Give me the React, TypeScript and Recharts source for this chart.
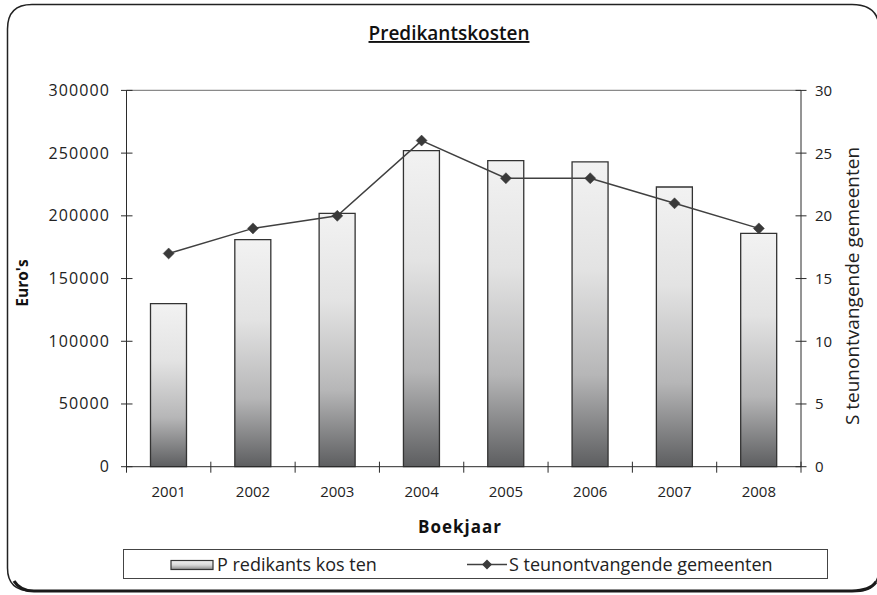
import React from 'react';
import {
  ComposedChart, Bar, Line, XAxis, YAxis, Legend, ReferenceLine, Customized,
} from 'recharts';

const years = ['2001', '2002', '2003', '2004', '2005', '2006', '2007', '2008'];
const kosten = [130000, 181000, 202000, 252000, 244000, 243000, 223000, 186000];
const gemeenten = [17, 19, 20, 26, 23, 23, 21, 19];
const leftTicks = [0, 50000, 100000, 150000, 200000, 250000, 300000];
const rightTicks = [0, 5, 10, 15, 20, 25, 30];

const TITLE = 'Predikantskosten';
const BAR_NAME = 'P redikants kos ten';
const LINE_NAME = 'S teunontvangende gemeenten';

const data = years.map((y, i) => ({ year: y, kosten: kosten[i], gemeenten: gemeenten[i] }));

const W = 877;
const H = 595;
const PLOT_LEFT = 126.5;
const PLOT_RIGHT = 801;
const PLOT_TOP = 90.4;
const PLOT_BOTTOM = 466.7;
const BAND = (PLOT_RIGHT - PLOT_LEFT) / years.length;
const FONT = '"Open Sans", "DejaVu Sans", sans-serif';
const INK = '#2b2b2b';
const LINE_COLOR = '#404040';

const LeftTick = (props: any) => {
  const { x, y, payload } = props;
  return (
    <g>
      <line x1={x - 5.5} x2={x + 6} y1={y} y2={y} stroke={INK} strokeWidth={1} />
      <text x={x - 16.5} y={y + 5.5} textAnchor="end" fontFamily={FONT} fontSize={16} letterSpacing={1.1} fill="#222">
        {payload.value}
      </text>
    </g>
  );
};

const RightTick = (props: any) => {
  const { x, y, payload } = props;
  return (
    <g>
      <line x1={x - 5.5} x2={x + 5.5} y1={y} y2={y} stroke={INK} strokeWidth={1} />
      <text x={x + 14} y={y + 5.5} textAnchor="start" fontFamily={FONT} fontSize={15} fill="#222">
        {payload.value}
      </text>
    </g>
  );
};

const XTick = (props: any) => {
  const { x, y, payload, index } = props;
  return (
    <g>
      <line x1={x - BAND / 2} x2={x - BAND / 2} y1={y - 5} y2={y + 6} stroke={INK} strokeWidth={1} />
      {index === years.length - 1 && (
        <line x1={x + BAND / 2} x2={x + BAND / 2} y1={y - 5} y2={y + 6} stroke={INK} strokeWidth={1} />
      )}
      <text x={x} y={y + 30.5} textAnchor="middle" fontFamily={FONT} fontSize={15} fill="#222">
        {payload.value}
      </text>
    </g>
  );
};

const Diamond = (props: any) => {
  const { cx, cy } = props;
  if (cx == null || cy == null) return null;
  const r = 5.5;
  return (
    <path d={`M${cx},${cy - r}L${cx + r},${cy}L${cx},${cy + r}L${cx - r},${cy}Z`} fill="#3a3a3a" stroke="#3a3a3a" strokeWidth={0.5} />
  );
};

const LegendContent = () => (
  <svg width={705} height={30} style={{ display: 'block', overflow: 'visible' }}>
    <defs>
      <linearGradient id="legGrad" x1="0" y1="0" x2="0" y2="1">
        <stop offset="0" stopColor="#f2f2f2" />
        <stop offset="0.5" stopColor="#d8d8d8" />
        <stop offset="1" stopColor="#8a8a8a" />
      </linearGradient>
    </defs>
    <rect x={0.5} y={0.5} width={704} height={29} fill="#fff" stroke="#444" strokeWidth={1} />
    <rect x={48} y={11.5} width={42} height={9} fill="url(#legGrad)" stroke="#333" strokeWidth={1.2} />
    <text x={94} y={21.5} fontFamily={FONT} fontSize={18} fill="#222">{BAR_NAME}</text>
    <line x1={344} x2={384} y1={15.5} y2={15.5} stroke={LINE_COLOR} strokeWidth={1.5} />
    <path d="M364,10.5L369,15.5L364,20.5L359,15.5Z" fill="#3a3a3a" />
    <text x={386} y={21.5} fontFamily={FONT} fontSize={18} fill="#222">{LINE_NAME}</text>
  </svg>
);

const Decorations = () => (
  <g>
    <path
      d="M7.5,568 L7.5,29 Q7.5,4.5 32,4.5 L852,4.5 Q879,4.5 879,29 L879,568 Q879,591 856,591 L32,591 Q7.5,591 7.5,568 Z"
      fill="none"
      stroke="#222"
      strokeWidth={1.5}
    />
    <path d="M14,581 Q20,591 34,591 L852,591 Q870,591 876,582" fill="none" stroke="#1a1a1a" strokeWidth={3.2} />
    <text x={449} y={40} textAnchor="middle" fontFamily={FONT} fontWeight={600} fontSize={19} fill="#111" style={{ textDecoration: 'underline' }}>
      {TITLE}
    </text>
    <text x={460} y={533} textAnchor="middle" fontFamily={FONT} fontWeight={700} fontSize={17} letterSpacing={1} fill="#111">
      Boekjaar
    </text>
    <text x={0} y={0} transform={`translate(28, 283) rotate(-90)`} textAnchor="middle" fontFamily={FONT} fontWeight={700} fontSize={15.5} fill="#111">
      Euro's
    </text>
    <text x={0} y={0} transform={`translate(859, 286) rotate(-90)`} textAnchor="middle" fontFamily={FONT} fontSize={19} fill="#222">
      {LINE_NAME}
    </text>
  </g>
);

export default function App() {
  return (
    <div style={{ position: 'absolute', left: 0, top: 0, width: W, height: H, background: '#fff' }}>
      <ComposedChart
        width={W}
        height={H}
        data={data}
        margin={{ top: PLOT_TOP, right: 0, left: 0, bottom: H - PLOT_BOTTOM - 30 }}
        barCategoryGap={0}
      >
        <defs>
          <linearGradient id="barGrad" x1="0" y1="0" x2="0" y2="1">
            <stop offset="0" stopColor="#f2f2f2" />
            <stop offset="0.35" stopColor="#e3e3e3" />
            <stop offset="0.7" stopColor="#b6b6b7" />
            <stop offset="1" stopColor="#5d5e60" />
          </linearGradient>
        </defs>
        <XAxis
          dataKey="year"
          height={30}
          tickSize={0}
          tickMargin={0}
          tickLine={false}
          axisLine={{ stroke: INK, strokeWidth: 1 }}
          tick={<XTick />}
          interval={0}
        />
        <YAxis
          yAxisId="left"
          orientation="left"
          width={PLOT_LEFT}
          domain={[0, 300000]}
          ticks={leftTicks}
          tickSize={0}
          tickMargin={0}
          tickLine={false}
          axisLine={{ stroke: INK, strokeWidth: 1 }}
          tick={<LeftTick />}
          interval={0}
        />
        <YAxis
          yAxisId="right"
          orientation="right"
          width={W - PLOT_RIGHT}
          domain={[0, 30]}
          ticks={rightTicks}
          tickSize={0}
          tickMargin={0}
          tickLine={false}
          axisLine={{ stroke: INK, strokeWidth: 1 }}
          tick={<RightTick />}
          interval={0}
        />
        <ReferenceLine yAxisId="left" y={300000} stroke="#8a8a8a" strokeWidth={1.2} />
        <Bar
          yAxisId="left"
          dataKey="kosten"
          name={BAR_NAME}
          barSize={36}
          fill="url(#barGrad)"
          stroke="#333"
          strokeWidth={1.3}
          isAnimationActive={false}
        />
        <Line
          yAxisId="right"
          dataKey="gemeenten"
          name={LINE_NAME}
          stroke={LINE_COLOR}
          strokeWidth={1.5}
          dot={<Diamond />}
          activeDot={false}
          isAnimationActive={false}
        />
        <Legend
          layout="vertical"
          align="center"
          verticalAlign="middle"
          content={<LegendContent />}
          wrapperStyle={{ position: 'absolute', left: 122.5, top: 549.3, width: 705, height: 30, margin: 0, padding: 0 }}
        />
        <Customized component={<Decorations />} />
      </ComposedChart>
    </div>
  );
}
